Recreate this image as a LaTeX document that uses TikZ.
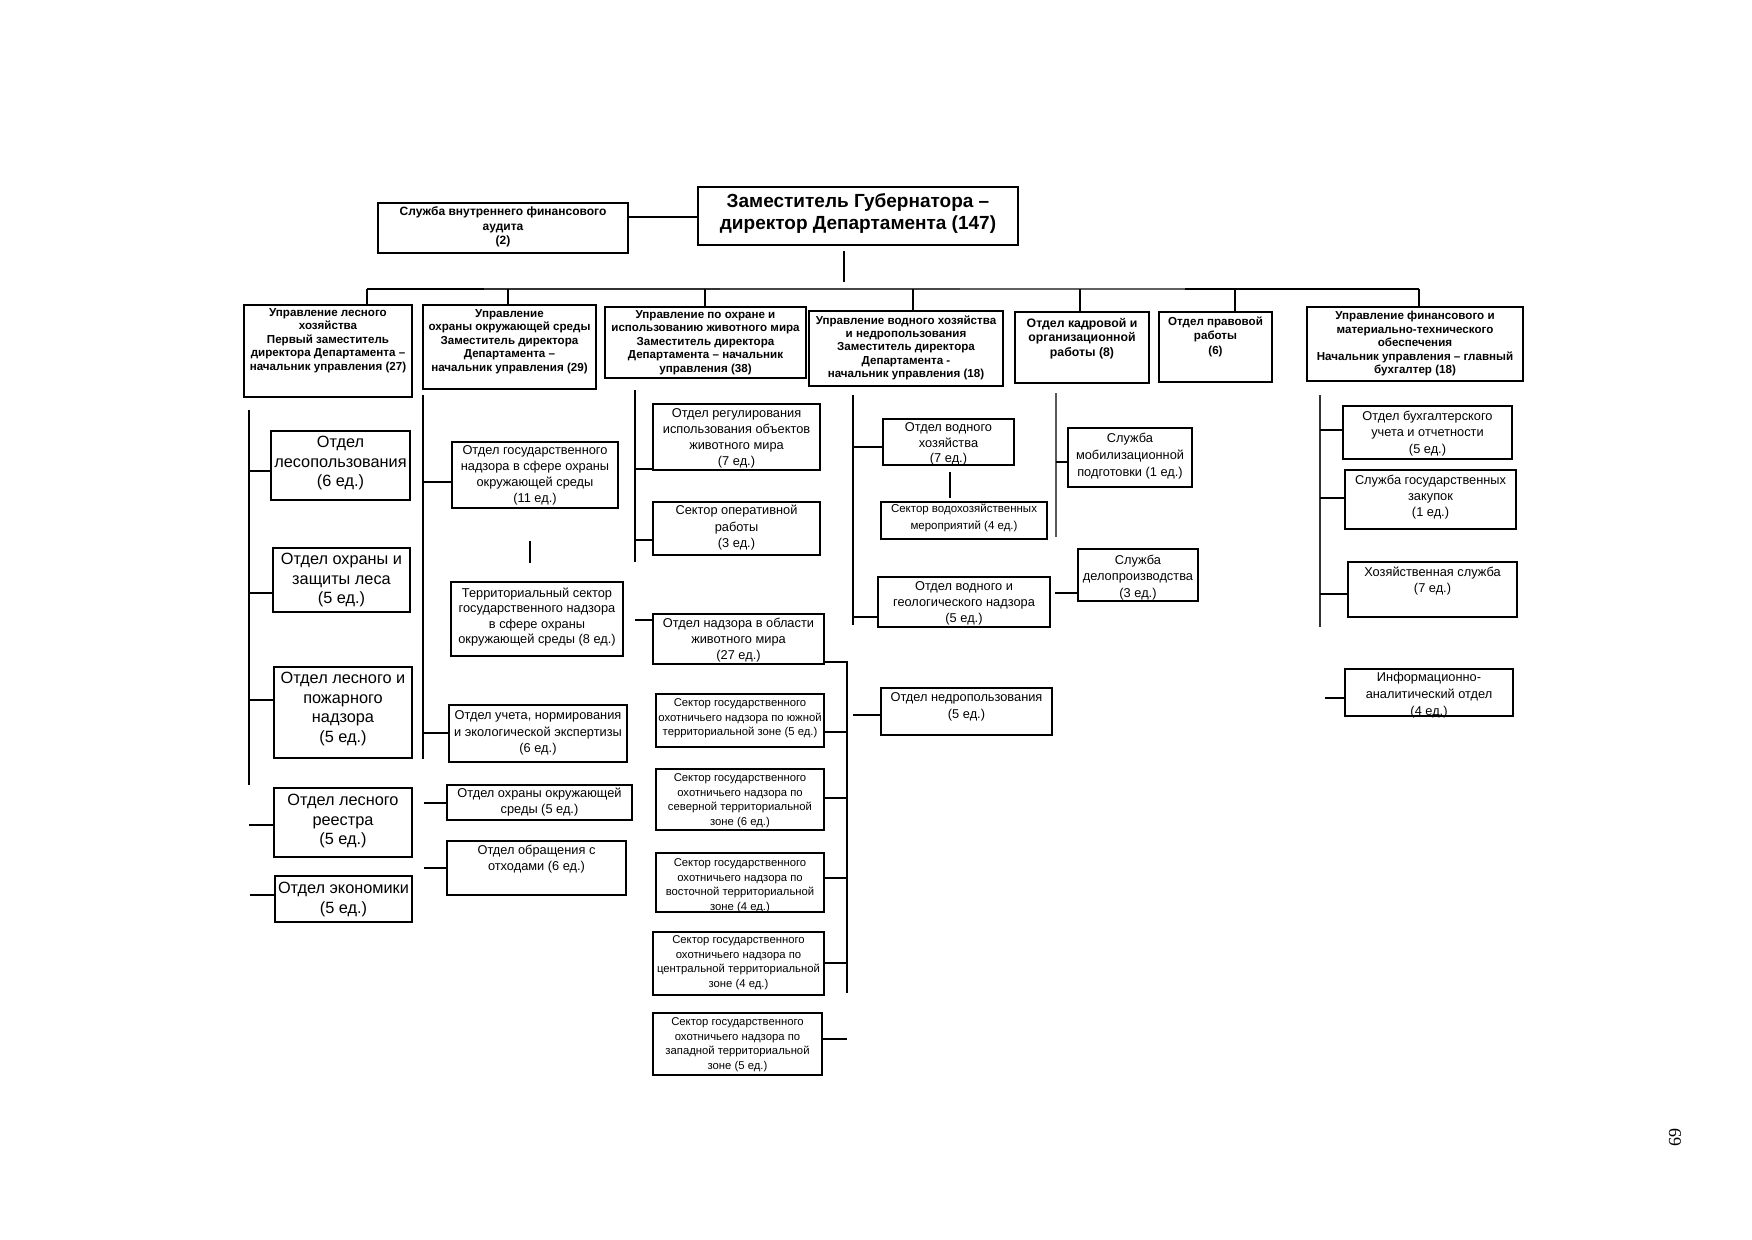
\documentclass[tikz,border=0pt]{standalone}
\usepackage{fontspec}
\setmainfont{Liberation Sans}
\newfontfamily\pnfont{Liberation Serif}
\newcommand\obox[8]{\node[#2,anchor=north west,inner sep=0pt,outer sep=0pt] (#1) at (#3,#4) {\parbox[c][\dimexpr #6pt-#4pt\relax][t]{\dimexpr #5pt-#3pt\relax}{\centering\vspace*{#7pt}#8\par}};}
\newcommand\kcon[6]{\coordinate (#1) at (#2,#3); \draw[#6] (#1) -- (#1 -| #4.#5);}
\tikzset{
 tb/.style={draw,line width=1.4pt},
 kb/.style={draw,line width=2.4pt},
 ln/.style={line width=1.4pt},
 lk/.style={line width=2.4pt},
 ft/.style={font=\bfseries\fontsize{11.6}{13.4}\selectfont},
 fm/.style={font=\fontsize{12.8}{16}\selectfont},
 fh/.style={font=\fontsize{11.3}{14.8}\selectfont},
 fl/.style={font=\fontsize{16.3}{19.5}\selectfont},
}
\begin{document}
\begin{tikzpicture}[x=1pt,y=-1pt]
\useasboundingbox (0,0) rectangle (1752,1239);
\fill[white] (0,0) rectangle (1752,1239);
% top
\obox{audit}{tb,font=\bfseries\fontsize{12}{14.5}\selectfont}{378}{203}{628}{253}{4}{Служба внутреннего финансового\\аудита\\(2)}
\obox{dir}{tb,font=\bfseries\fontsize{19}{22}\selectfont}{698}{187}{1018}{245}{7}{Заместитель Губернатора –\\директор Департамента (147)}
\obox{b1}{kb,ft}{244}{305}{412}{397}{3.5}{Управление лесного\\хозяйства\\Первый заместитель\\директора Департамента –\\начальник управления (27)}
\obox{b2}{tb,ft}{423}{305}{596}{389}{4.5}{Управление\\охраны окружающей среды\\Заместитель директора\\Департамента –\\начальник управления (29)}
\obox{b3}{tb,ft}{605}{307}{806}{378}{3.5}{Управление по охране и\\использованию животного мира\\Заместитель директора\\Департамента – начальник\\управления (38)}
\obox{b4}{kb,ft}{809}{311}{1003}{386}{4.5}{Управление водного хозяйства\\и недропользования\\Заместитель директора\\Департамента -\\начальник управления (18)}
\obox{b5}{tb,font=\bfseries\fontsize{12.3}{14.5}\selectfont}{1015}{312}{1149}{383}{6}{Отдел кадровой и\\организационной\\работы (8)}
\obox{b6}{tb,font=\bfseries\fontsize{11.6}{14.5}\selectfont}{1159}{312}{1272}{382}{4.5}{Отдел правовой\\работы\\(6)}
\obox{b7}{tb,ft}{1307}{307}{1523}{381}{4.5}{Управление финансового и\\материально-технического\\обеспечения\\Начальник управления – главный\\бухгалтер (18)}
% forest column
\obox{l1}{kb,fl}{271}{431}{410}{500}{5.4}{Отдел\\лесопользования\\(6 ед.)}
\obox{l2}{tb,fl}{273}{548}{410}{612}{5.4}{Отдел охраны и\\защиты леса\\(5 ед.)}
\obox{l3}{tb,fl}{274}{667}{412}{758}{5.4}{Отдел лесного и\\пожарного\\надзора\\(5 ед.)}
\obox{l4}{tb,fl}{274}{788}{412}{857}{6.4}{Отдел лесного\\реестра\\(5 ед.)}
\obox{l5}{kb,fl}{275}{876}{412}{922}{6.4}{Отдел экономики\\(5 ед.)}
% environment column
\obox{e1}{tb,fm}{452}{442}{618}{508}{4}{Отдел государственного\\надзора в сфере охраны\\окружающей среды\\(11 ед.)}
\obox{e2}{kb,font=\fontsize{12.8}{15.3}\selectfont}{451}{582}{623}{656}{6}{Территориальный сектор\\государственного надзора\\в сфере охраны\\окружающей среды (8 ед.)}
\obox{e3}{tb,font=\fontsize{12.8}{16.5}\selectfont}{449}{705}{627}{762}{6}{Отдел учета, нормирования\\и экологической экспертизы\\(6 ед.)}
\obox{e4}{tb,fm}{447}{785}{632}{820}{3}{Отдел охраны окружающей\\среды (5 ед.)}
\obox{e5}{tb,fm}{447}{841}{626}{895}{4}{Отдел обращения с\\отходами (6 ед.)}
% wildlife column
\obox{a1}{tb,fm}{653}{404}{820}{470}{5}{Отдел регулирования\\использования объектов\\животного мира\\(7 ед.)}
\obox{a2}{tb,font=\fontsize{12.8}{16.5}\selectfont}{653}{502}{820}{555}{3}{Сектор оперативной\\работы\\(3 ед.)}
\obox{a3}{tb,fm}{653}{614}{824}{664}{4}{Отдел надзора в области\\животного мира\\(27 ед.)}
\obox{h1}{tb,fh}{656}{694}{824}{747}{4.4}{Сектор государственного\\охотничьего надзора по южной\\территориальной зоне (5 ед.)}
\obox{h2}{tb,fh}{656}{769}{824}{830}{4.4}{Сектор государственного\\охотничьего надзора по\\северной территориальной\\зоне (6 ед.)}
\obox{h3}{kb,fh}{656}{853}{824}{912}{5.4}{Сектор государственного\\охотничьего надзора по\\восточной территориальной\\зоне (4 ед.)}
\obox{h4}{kb,fh}{653}{932}{824}{995}{3.4}{Сектор государственного\\охотничьего надзора по\\центральной территориальной\\зоне (4 ед.)}
\obox{h5}{tb,fh}{653}{1013}{822}{1075}{4.4}{Сектор государственного\\охотничьего надзора по\\западной территориальной\\зоне (5 ед.)}
% water column
\obox{w1}{tb,font=\fontsize{12.8}{15.5}\selectfont}{883}{419}{1014}{465}{4}{Отдел водного\\хозяйства\\(7 ед.)}
\obox{w2}{kb,font=\fontsize{11.5}{17}\selectfont}{881}{502}{1047}{539}{2.4}{Сектор водохозяйственных\\мероприятий (4 ед.)}
\obox{w3}{kb,fm}{878}{577}{1050}{627}{5}{Отдел водного и\\геологического надзора\\(5 ед.)}
\obox{w4}{tb,font=\fontsize{12.8}{17}\selectfont}{881}{688}{1052}{735}{5}{Отдел недропользования\\(5 ед.)}
\obox{w5}{kb,font=\fontsize{12.8}{16.5}\selectfont}{1078}{549}{1198}{601}{6}{Служба\\делопроизводства\\(3 ед.)}
\obox{m1}{kb,font=\fontsize{12.8}{17}\selectfont}{1068}{428}{1192}{487}{5}{Служба\\мобилизационной\\подготовки (1 ед.)}
% finance column
\obox{f1}{tb,font=\fontsize{12.8}{16.5}\selectfont}{1343}{406}{1512}{459}{5}{Отдел бухгалтерского\\учета и отчетности\\(5 ед.)}
\obox{f2}{tb,fm}{1345}{470}{1516}{529}{5}{Служба государственных\\закупок\\(1 ед.)}
\obox{f3}{tb,fm}{1348}{562}{1517}{617}{5}{Хозяйственная служба\\(7 ед.)}
\obox{f4}{tb,font=\fontsize{12.8}{17}\selectfont}{1345}{669}{1513}{716}{3}{Информационно-\\аналитический отдел\\(4 ед.)}
% page number
\node[rotate=90,inner sep=0pt,font=\pnfont\fontsize{18}{18}\selectfont] (pg) at (1675,1137) {69};
% audit - director
\coordinate (ad) at (600,217);
\draw[lk] (audit.east |- ad) -- (dir.west |- ad);
\coordinate (dd1) at (844,251); \coordinate (dd2) at (844,282);
\draw[ln] (dd1) -- (dd2);
% bus
\coordinate (bus0) at (367,289); \coordinate (busA) at (484,289); \coordinate (busB) at (720,289);
\coordinate (busC) at (960,289); \coordinate (busD) at (1185,289); \coordinate (bus1) at (1419,289);
\draw[line width=2.6pt] (bus0) -- (busA);
\draw[line width=2.6pt,black!80] (busA) -- (busB);
\draw[line width=2.6pt,black!72] (busB) -- (busC);
\draw[line width=2.6pt,black!62] (busC) -- (busD);
\draw[line width=1.8pt] (busD) -- (bus1);
\foreach \n/\x in {b1/367,b2/508,b3/705,b4/913,b6/1235,b7/1419}{
 \coordinate (dr\n) at (\x,289); \draw[ln] (dr\n) -- (dr\n |- \n.north);}
\coordinate (drb5) at (1080,289); \draw[lk] (drb5) -- (drb5 |- b5.north);
% spines
\coordinate (s1a) at (249,410); \coordinate (s1b) at (249,785); \draw[ln] (s1a) -- (s1b);
\coordinate (s2a) at (423,395); \coordinate (s2b) at (423,759); \draw[ln] (s2a) -- (s2b);
\coordinate (s3a) at (635,390); \coordinate (s3b) at (635,562); \draw[line width=2.8pt] (s3a) -- (s3b);
\coordinate (s4a) at (853,395); \coordinate (s4b) at (853,625); \draw[ln] (s4a) -- (s4b);
\coordinate (s5a) at (1056,393); \coordinate (s5b) at (1056,537); \draw[line width=2pt,black!65] (s5a) -- (s5b);
\coordinate (s6a) at (1320,395); \coordinate (s6b) at (1320,627); \draw[line width=1.8pt,black!80] (s6a) -- (s6b);
\coordinate (hb0) at (847,662); \coordinate (hb1) at (847,993);
\draw[ln] (a3.east |- hb0) -- (hb0) -- (hb1);
% short verticals
\coordinate (v1a) at (530,541); \coordinate (v1b) at (530,563); \draw[ln] (v1a) -- (v1b);
\coordinate (v2a) at (950,472); \coordinate (v2b) at (950,498); \draw[ln] (v2a) -- (v2b);
% connectors
\kcon{k11}{249}{471}{l1}{west}{ln}
\kcon{k12}{249}{593}{l2}{west}{ln}
\kcon{k13}{249}{700}{l3}{west}{lk}
\kcon{k14}{249}{825}{l4}{west}{ln}
\kcon{k15}{250}{895}{l5}{west}{ln}
\kcon{k21}{423}{482}{e1}{west}{ln}
\kcon{k23}{423}{733}{e3}{west}{lk}
\kcon{k24}{424}{803}{e4}{west}{ln}
\kcon{k25}{424}{868}{e5}{west}{ln}
\kcon{k31}{635}{469}{a1}{west}{ln}
\kcon{k32}{635}{540}{a2}{west}{ln}
\kcon{k33}{635}{620}{a3}{west}{ln}
\kcon{kh1}{847}{732}{h1}{east}{ln}
\kcon{kh2}{847}{798}{h2}{east}{lk}
\kcon{kh3}{847}{878}{h3}{east}{ln}
\kcon{kh4}{847}{963}{h4}{east}{lk}
\kcon{kh5}{847}{1039}{h5}{east}{lk}
\kcon{k41}{853}{447}{w1}{west}{ln}
\kcon{k43}{853}{617}{w3}{west}{ln}
\kcon{k44}{853}{715}{w4}{west}{ln}
\kcon{k51}{1056}{462}{m1}{west}{lk}
\kcon{k52}{1055}{593}{w5}{west}{ln}
\kcon{k61}{1320}{430}{f1}{west}{ln}
\kcon{k62}{1320}{498}{f2}{west}{ln}
\kcon{k63}{1320}{594}{f3}{west}{ln}
\kcon{k64}{1325}{698}{f4}{west}{ln}
\end{tikzpicture}
\end{document}
